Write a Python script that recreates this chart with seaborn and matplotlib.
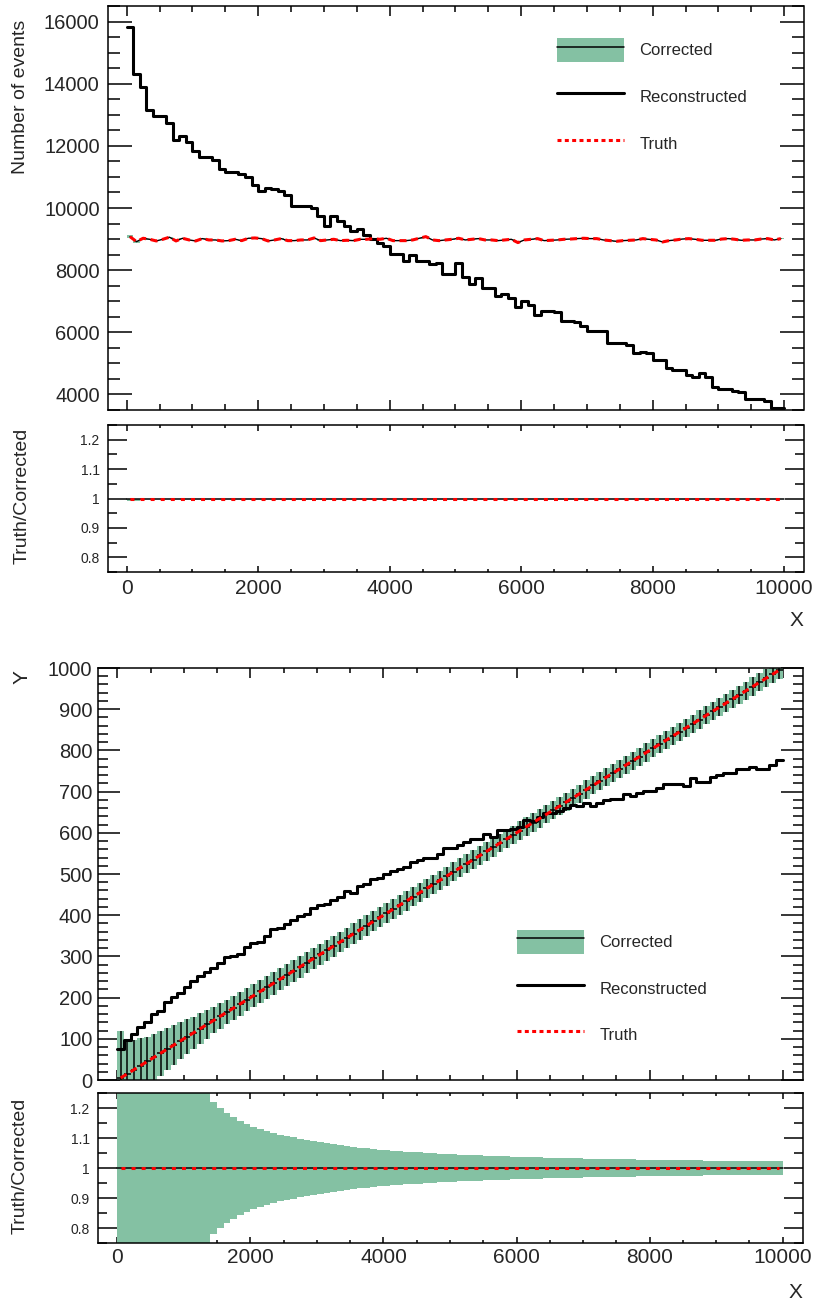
import numpy as np
import matplotlib
matplotlib.use("Agg")
import matplotlib.pyplot as plt
import seaborn as sns
from matplotlib.patches import Patch
from matplotlib.lines import Line2D
from matplotlib.legend_handler import HandlerTuple
from matplotlib.ticker import MultipleLocator, FormatStrFormatter

# binning: 100 bins of width 100 over 0..10000
n_bins = 100
x_lo, x_hi = 0, 10000

# top panel: number of events per bin
reco_top = [15840, 14306, 13900, 13150, 12966, 12966, 12730, 12184, 12323, 12110,
            11840, 11650, 11650, 11550, 11250, 11175, 11175, 11110, 10983, 10747,
            10554, 10660, 10607, 10554, 10425, 10050, 10050, 10050, 10000, 9730,
            9430, 9730, 9590, 9430, 9250, 9320, 9128, 9000, 8870, 8765,
            8517, 8517, 8300, 8480, 8300, 8280, 8195, 8220, 7870, 7870,
            8220, 7790, 7545, 7740, 7420, 7420, 7150, 7235, 7095, 6805,
            7020, 6860, 6560, 6670, 6670, 6640, 6345, 6345, 6320, 6184,
            6023, 6023, 6023, 5650, 5650, 5650, 5575, 5330, 5350, 5330,
            5110, 5110, 4840, 4785, 4785, 4624, 4550, 4678, 4550, 4250,
            4175, 4175, 4120, 4070, 3846, 3846, 3846, 3790, 3554, 3554]
truth_top = [9078, 8917, 9025, 8992, 8939, 8992, 9060, 8939, 9025, 8971,
             8939, 9014, 8971, 8971, 8939, 8949, 8992, 8949, 9025, 9035,
             9014, 8939, 8971, 9014, 8949, 8949, 8971, 8971, 9035, 8949,
             8971, 8992, 8949, 8960, 8949, 8992, 8992, 9014, 8992, 9025,
             8949, 8949, 8949, 8971, 9025, 9078, 8971, 8949, 8971, 8992,
             9025, 8971, 8992, 9014, 8971, 8971, 8949, 8971, 8992, 8886,
             8971, 8992, 9014, 8949, 8960, 8971, 8992, 9000, 9014, 9025,
             9014, 9014, 8971, 8950, 8928, 8949, 8960, 8971, 9014, 8990,
             8971, 8906, 8950, 8971, 9000, 9014, 8992, 8960, 8960, 8960,
             9000, 9014, 8992, 8960, 8971, 8971, 9000, 9014, 8971, 9014]
corr_top = truth_top  # corrected matches truth (ratio is 1 everywhere)
corr_err_top = [40, 30] + [12] * 98
top_ratio_lo = [0.99, 0.99]  # small visible band in the first two bins

# bottom panel: mean Y per X bin
reco_bot = [76, 96, 112, 128, 140, 160, 167, 189, 202, 211,
            225, 241, 252, 261, 273, 284, 298, 302, 307, 324,
            332, 336, 350, 366, 370, 378, 389, 399, 403, 417,
            424, 428, 437, 445, 459, 453, 471, 475, 487, 490,
            501, 508, 512, 517, 528, 533, 540, 540, 549, 562,
            562, 570, 578, 584, 584, 596, 590, 607, 607, 610,
            615, 631, 629, 638, 649, 649, 653, 661, 667, 665,
            673, 665, 673, 679, 683, 683, 693, 689, 697, 701,
            701, 708, 719, 719, 719, 713, 732, 724, 724, 735,
            740, 744, 744, 754, 754, 760, 755, 755, 764, 777]
truth_bot = [5, 15, 25, 35, 45, 55, 65, 75, 85, 95,
             105, 115, 125, 135, 145, 155, 165, 175, 185, 195,
             205, 215, 225, 235, 245, 255, 265, 275, 285, 295,
             305, 315, 325, 335, 345, 355, 365, 375, 385, 395,
             405, 415, 425, 435, 445, 455, 465, 475, 485, 495,
             505, 515, 525, 535, 545, 555, 565, 575, 585, 595,
             605, 615, 625, 635, 645, 655, 665, 675, 685, 695,
             705, 715, 725, 735, 745, 755, 765, 775, 785, 795,
             805, 815, 825, 835, 845, 855, 865, 875, 885, 895,
             905, 915, 925, 935, 945, 955, 965, 975, 985, 995]
corr_bot = truth_bot
corr_err_bot = [115, 82, 72, 67, 60, 57, 55, 51, 48, 45,
                42, 39, 37, 35, 32, 31, 30, 29.6, 29, 28.7,
                28.2, 28, 27.7, 27.5, 27.3, 27, 27, 26.8, 26.5, 26.3,
                26, 25.8, 25.5, 25.3, 25, 25, 24.8, 24.6, 24.5, 24.3,
                24.2, 24, 24, 23.8, 23.7, 23.6, 23.5, 23.4, 23.3, 23.2,
                23.1, 23, 23, 22.9, 22.8, 22.8, 22.7, 22.6, 22.6, 22.5,
                22.5, 22.4, 22.4, 22.3, 22.3, 22.2, 22.2, 22.2, 22.1, 22.1,
                22, 22, 22, 22, 22, 22, 22, 22, 22, 22,
                22, 22, 22, 22, 22, 22, 22, 22, 22, 22,
                22, 22, 22, 22, 22, 22, 22, 22, 22, 22]

legend_labels = ["Corrected", "Reconstructed", "Truth"]

sns.set_theme(style="ticks")
plt.rcParams['font.family'] = ['Liberation Sans', 'DejaVu Sans']

green = '#84c1a3'
edges = np.linspace(x_lo, x_hi, n_bins + 1)
centers = 0.5 * (edges[:-1] + edges[1:])
bw = edges[1] - edges[0]


def stair(v):
    v = np.asarray(v, dtype=float)
    return np.append(v, v[-1])


def frame(ax, xl, yl, ymaj, ymin, ylen, xlen, ysize, ypad, show_x, xpad=5):
    ax.set_xlim(xl)
    ax.set_ylim(yl)
    ax.xaxis.set_major_locator(MultipleLocator(2000))
    ax.xaxis.set_minor_locator(MultipleLocator(500))
    ax.yaxis.set_major_locator(MultipleLocator(ymaj))
    ax.yaxis.set_minor_locator(MultipleLocator(ymin))
    ax.tick_params(which='both', direction='in', top=True, right=True,
                   width=1.1, color='black')
    ax.tick_params(axis='y', which='major', length=ylen[0], labelsize=ysize, pad=ypad)
    ax.tick_params(axis='y', which='minor', length=ylen[1])
    ax.tick_params(axis='x', which='major', length=xlen[0], labelsize=15, pad=xpad)
    ax.tick_params(axis='x', which='minor', length=xlen[1])
    ax.tick_params(axis='x', labelbottom=show_x)
    ax.xaxis.set_major_formatter(FormatStrFormatter('%g'))
    ax.yaxis.set_major_formatter(FormatStrFormatter('%g'))
    for s in ax.spines.values():
        s.set_linewidth(1.1)
        s.set_color('black')
    ax.set_xlabel('')
    ax.set_ylabel('')


def make_legend(fig, x_px, y_px):
    handles = [(Patch(facecolor=green, edgecolor='none'), Line2D([], [], color='black', lw=1.1)),
               Line2D([], [], color='black', lw=2.2),
               Line2D([], [], color='red', lw=2.2, linestyle=(0, (1.3, 1.1)))]
    fig.legend(handles, legend_labels, loc='upper left',
               bbox_to_anchor=(x_px / 817, 1 - y_px / 1302), bbox_transform=fig.transFigure,
               frameon=False, fontsize=12, handlelength=4.0, handleheight=1.85,
               labelspacing=1.35, handletextpad=0.95, borderpad=0, borderaxespad=0,
               handler_map={tuple: HandlerTuple(ndivide=1, pad=0)})


fig = plt.figure(figsize=(8.17, 13.02), dpi=100)

# ---------------- top: number of events ----------------
ax1 = fig.add_axes([108 / 817, 1 - 410 / 1302, 695.5 / 817, 404 / 1302])
lo = np.asarray(corr_top) - np.asarray(corr_err_top)
hi = np.asarray(corr_top) + np.asarray(corr_err_top)
ax1.fill_between(edges, stair(lo), stair(hi), step='post', color=green, lw=0, zorder=1)
sns.lineplot(x=centers, y=corr_top, color='black', lw=1.0, ax=ax1, estimator=None, sort=False, zorder=2)
sns.lineplot(x=edges, y=stair(reco_top), drawstyle='steps-post', color='black', lw=2.2,
             ax=ax1, estimator=None, sort=False, zorder=3)
sns.lineplot(x=centers, y=truth_top, color='red', lw=2.2, linestyle=(0, (2.3, 1.5)),
             ax=ax1, estimator=None, sort=False, zorder=4)
frame(ax1, (-284, 10294), (3494, 16506), 2000, 500, (17, 8.5), (7.5, 4), 14.5, 6, False)
make_legend(fig, 557, 38)

# ---------------- top ratio ----------------
ax2 = fig.add_axes([108 / 817, 1 - 572 / 1302, 695.5 / 817, 147 / 1302])
ax2.fill_between(edges[:len(top_ratio_lo) + 1], stair(top_ratio_lo), 1.0, step='post',
                 color=green, lw=0, zorder=1)
ax2.plot([edges[0], edges[-1]], [1, 1], color='black', lw=1.1, zorder=2)
sns.lineplot(x=centers, y=np.asarray(truth_top) / np.asarray(corr_top), color='red', lw=2.2,
             linestyle=(0, (1.3, 2.0)), ax=ax2, estimator=None, sort=False, zorder=3)
frame(ax2, (-284, 10294), (0.75, 1.25), 0.1, 0.05, (13.5, 6.5), (4.5, 2.5), 10, 6, True, xpad=5)

fig.text(20.5 / 817, 1 - 20 / 1302, 'Number of events', rotation=90, ha='center', va='top', fontsize=14)
fig.text(22 / 817, 1 - 428 / 1302, 'Truth/Corrected', rotation=90, ha='center', va='top', fontsize=14)
fig.text(803 / 817, 1 - 611 / 1302, 'X', ha='right', va='top', fontsize=15)

# ---------------- bottom: Y vs X ----------------
ax3 = fig.add_axes([98 / 817, 1 - 1080 / 1302, 705 / 817, 412 / 1302])
cb = np.asarray(corr_bot, dtype=float)
eb = np.asarray(corr_err_bot, dtype=float)
ax3.bar(centers, 2 * eb, bottom=cb - eb, width=bw, color=green, linewidth=0, zorder=1)
ax3.errorbar(centers, cb, yerr=eb, xerr=bw / 2, fmt='none', ecolor='black',
             elinewidth=1.1, capsize=0, zorder=2)
sns.lineplot(x=edges, y=stair(reco_bot), drawstyle='steps-post', color='black', lw=2.2,
             ax=ax3, estimator=None, sort=False, zorder=3)
sns.lineplot(x=centers, y=truth_bot, color='red', lw=2.2, linestyle=(0, (2.3, 1.5)),
             ax=ax3, estimator=None, sort=False, zorder=4)
frame(ax3, (-290, 10305), (0, 1000), 100, 20, (16, 7.5), (7.5, 3.5), 14.5, 4, False)
make_legend(fig, 517, 929.5)

# ---------------- bottom ratio ----------------
ax4 = fig.add_axes([98 / 817, 1 - 1243 / 1302, 705 / 817, 150 / 1302])
rel = eb / cb
ax4.fill_between(edges, stair(1 - rel), stair(1 + rel), step='post', color=green, lw=0, zorder=1)
ax4.plot([edges[0], edges[-1]], [1, 1], color='black', lw=1.1, zorder=2)
sns.lineplot(x=centers, y=np.asarray(truth_bot) / cb, color='red', lw=2.2,
             linestyle=(0, (1.3, 2.0)), ax=ax4, estimator=None, sort=False, zorder=3)
frame(ax4, (-290, 10305), (0.75, 1.25), 0.1, 0.05, (13.5, 6.5), (4.5, 2.5), 10, 6, True, xpad=3.5)

fig.text(22 / 817, 1 - 670 / 1302, 'Y', rotation=90, ha='center', va='top', fontsize=15)
fig.text(20 / 817, 1 - 1098 / 1302, 'Truth/Corrected', rotation=90, ha='center', va='top', fontsize=14)
fig.text(802 / 817, 1 - 1283 / 1302, 'X', ha='right', va='top', fontsize=15)

fig.savefig('out.png', dpi=100)
